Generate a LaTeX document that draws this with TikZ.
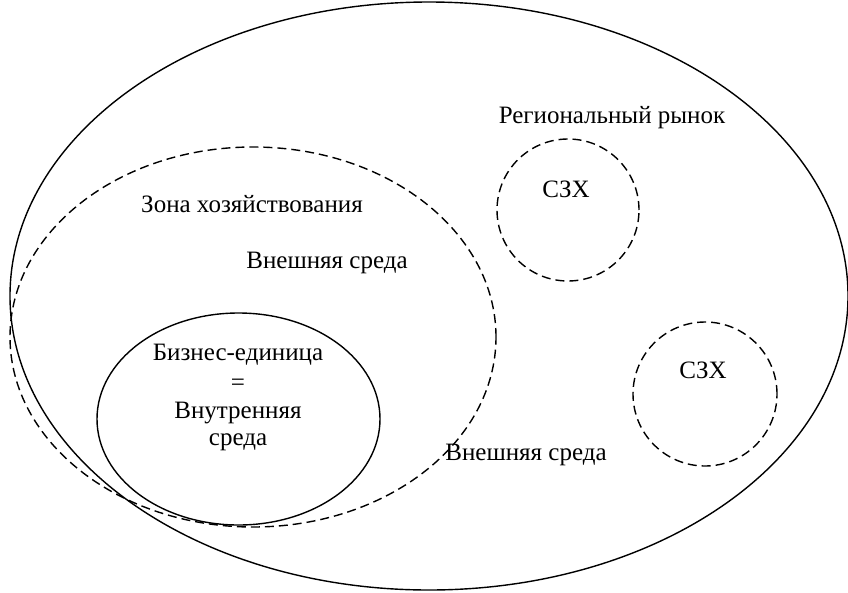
\documentclass[tikz,border=0pt]{standalone}
\usepackage{fontspec}
\setmainfont{Liberation Serif}
\begin{document}
\begin{tikzpicture}[x=1pt,y=-1pt, line width=1.4pt,
  lbl/.style={font=\fontsize{25}{30}\selectfont, anchor=base, inner sep=0pt},
  dsh/.style={dash pattern=on 9pt off 5pt}]
\useasboundingbox (0,0) rectangle (848,592);
% outer region
\draw (429,296) ellipse [x radius=419pt, y radius=294pt];
% zone of management
\draw[dsh] (253,337) ellipse [x radius=243pt, y radius=190pt];
% business unit
\draw (238.5,419) ellipse [x radius=141.5pt, y radius=106pt];
% SZH circles
\draw[dsh] (568,210) circle [radius=71pt];
\draw[dsh] (705,394) circle [radius=72pt];
% labels
\node[lbl] (reg) at (612,123) {Региональный рынок};
\node[lbl] (szh1) at (566,197) {СЗХ};
\node[lbl] (zona) at (252,212) {Зона хозяйствования};
\node[lbl] (vn1) at (327,268) {Внешняя среда};
\node[lbl] (bu1) at (238,360) {Бизнес-единица};
\node[lbl] (bu2) at (238,390) {=};
\node[lbl] (bu3) at (238,418) {Внутренняя};
\node[lbl] (bu4) at (238,445) {среда};
\node[lbl] (szh2) at (703,378) {СЗХ};
\node[lbl] (vn2) at (526,460) {Внешняя среда};
\end{tikzpicture}
\end{document}
